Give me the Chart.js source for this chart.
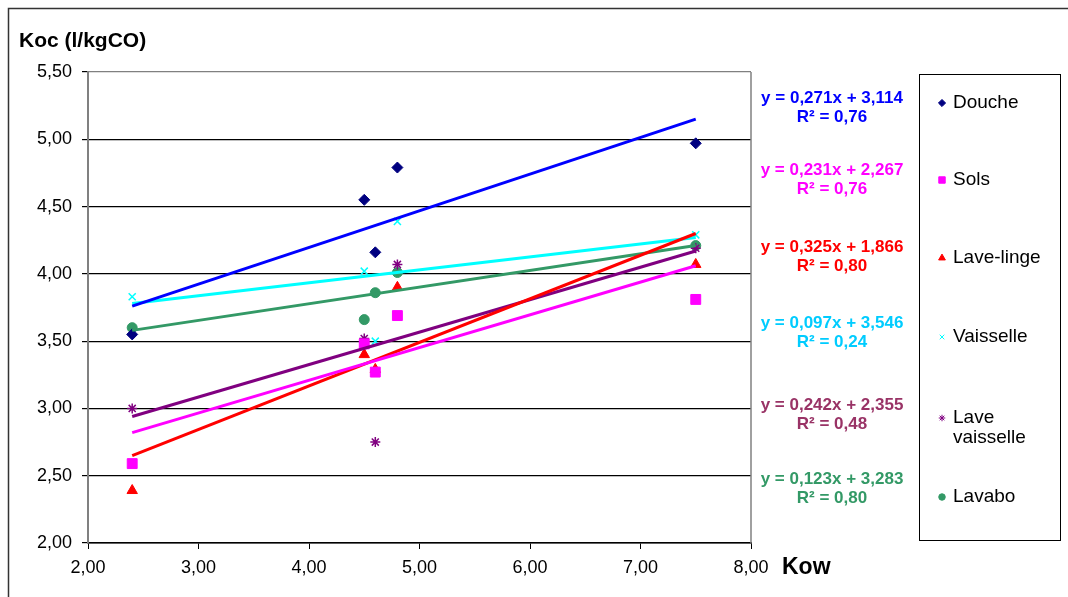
<!DOCTYPE html>
<html lang="fr">
<head>
<meta charset="utf-8">
<title>Koc vs Kow</title>
<script src="https://cdn.jsdelivr.net/npm/chart.js@4.4.0/dist/chart.umd.min.js"></script>
<style>
    html, body { margin: 0; padding: 0; background: #fff; }
    #wrap { position: relative; width: 1068px; height: 597px; }
</style>
</head>
<body>
<div id="wrap"><canvas id="kocChart" width="1068" height="597"></canvas></div>
<script>
// Kow values (x) shared by every product
const kow = [2.4, 4.5, 4.6, 4.8, 7.5];

// Koc per product
const douche        = [3.55, 4.55, 4.16, 4.79, 4.97];
const sols          = [2.59, 3.48, 3.27, 3.69, 3.81];
const laveLinge     = [2.39, 3.40, 3.29, 3.90, 4.07];
const vaisselle     = [3.83, 4.02, 3.50, 4.39, 4.29];
const laveVaisselle = [3.00, 3.52, 2.75, 4.07, 4.19];
const lavabo        = [3.60, 3.66, 3.86, 4.01, 4.21];

const seriesNames = ['Douche', 'Sols', 'Lave-linge', 'Vaisselle', 'Lave vaisselle', 'Lavabo'];

// trend lines: y at first and last Kow
const trendX     = [2.4, 7.5];
const trendStart = [3.76, 2.82, 2.65, 3.78, 2.94, 3.58];
const trendEnd   = [5.15, 4.06, 4.30, 4.27, 4.17, 4.21];

// equation labels as printed
const equations = ['y = 0,271x + 3,114', 'y = 0,231x + 2,267', 'y = 0,325x + 1,866',
                   'y = 0,097x + 3,546', 'y = 0,242x + 2,355', 'y = 0,123x + 3,283'];
const rSquared  = ['R² = 0,76', 'R² = 0,76', 'R² = 0,80', 'R² = 0,24', 'R² = 0,48', 'R² = 0,80'];

// axis ticks
const xTicks = [2, 3, 4, 5, 6, 7, 8];
const yTicks = [2, 2.5, 3, 3.5, 4, 4.5, 5, 5.5];

const FONT = "'Liberation Sans', Arial, sans-serif";

const markerStyles = [
    { pointStyle: 'rectRot', color: '#000080', radius: 5.5, border: 1 },
    { pointStyle: 'rect', color: '#FF00FF', radius: 7, border: 1 },
    { pointStyle: 'triangle', color: '#FF0000', radius: 6, border: 1 },
    { pointStyle: 'crossRot', color: '#00FFFF', radius: 5, border: 1.5 },
    { pointStyle: 'star', color: '#800080', radius: 5, border: 1.5 },
    { pointStyle: 'circle', color: '#339966', radius: 5, border: 1 }
];
const lineColors = ['#0000FF', '#FF00FF', '#FF0000', '#00FFFF', '#800080', '#339966'];
const eqColors   = ['#0000FF', '#FF00FF', '#FF0000', '#00CCFF', '#993366', '#339966'];
const eqY        = [98, 170, 247, 323, 405, 479];
const legendY    = [103, 180, 258, 337, 418, 497];

const fmt = v => Number(v).toFixed(2).replace('.', ',');

function buildDatasets() {
    const values = [douche, sols, laveLinge, vaisselle, laveVaisselle, lavabo];
    const sets = [];
    values.forEach((ys, i) => {
        const m = markerStyles[i];
        sets.push({
            label: seriesNames[i],
            data: ys.map((y, k) => ({ x: kow[k], y: y })),
            showLine: false,
            pointStyle: m.pointStyle,
            pointRadius: m.radius,
            pointBackgroundColor: m.color,
            pointBorderColor: m.color,
            pointBorderWidth: m.border,
            order: 2
        });
    });
    trendStart.forEach((y0, i) => {
        sets.push({
            label: 'trend ' + seriesNames[i],
            data: [{ x: trendX[0], y: y0 }, { x: trendX[1], y: trendEnd[i] }],
            showLine: true,
            borderColor: lineColors[i],
            borderWidth: 3,
            pointRadius: 0,
            order: 1
        });
    });
    return sets;
}

// Title, axis name, equations and the legend box
const decorPlugin = {
    id: 'decor',
    afterDraw(chart) {
        const ctx = chart.ctx;
        const area = chart.chartArea;
        ctx.save();

        // outer frame
        ctx.strokeStyle = '#333';
        ctx.lineWidth = 1.5;
        ctx.beginPath();
        ctx.moveTo(8.5, 600);
        ctx.lineTo(8.5, 8.5);
        ctx.lineTo(1070, 8.5);
        ctx.stroke();

        // right edge of plot area
        ctx.strokeStyle = '#808080';
        ctx.lineWidth = 1.5;
        ctx.beginPath();
        ctx.moveTo(area.right, area.top);
        ctx.lineTo(area.right, area.bottom);
        ctx.stroke();

        ctx.fillStyle = '#000';
        ctx.textBaseline = 'alphabetic';
        ctx.textAlign = 'left';
        ctx.font = 'bold 21px ' + FONT;
        ctx.fillText('Koc (l/kgCO)', 19, 47);
        ctx.font = 'bold 23px ' + FONT;
        ctx.fillText('Kow', 782, 574);

        // regression equations
        ctx.textAlign = 'center';
        ctx.textBaseline = 'middle';
        ctx.font = 'bold 17px ' + FONT;
        equations.forEach((eq, i) => {
            ctx.fillStyle = eqColors[i];
            ctx.fillText(eq, 832, eqY[i]);
            ctx.fillText(rSquared[i], 832, eqY[i] + 19);
        });

        // legend
        ctx.strokeStyle = '#000';
        ctx.lineWidth = 1;
        ctx.strokeRect(919.5, 74.5, 141, 466);
        ctx.textAlign = 'left';
        ctx.font = '19px ' + FONT;
        seriesNames.forEach((name, i) => {
            const m = markerStyles[i];
            const y = legendY[i];
            ctx.fillStyle = m.color;
            ctx.strokeStyle = m.color;
            Chart.helpers.drawPoint(ctx, { pointStyle: m.pointStyle, radius: m.radius * 0.65, borderWidth: 1 }, 942, y);
            ctx.fillStyle = '#000';
            if (name === 'Lave vaisselle') {
                ctx.fillText('Lave', 953, y);
                ctx.fillText('vaisselle', 953, y + 20);
            } else {
                ctx.fillText(name, 953, y);
            }
        });
        ctx.restore();
    }
};

const chart = new Chart(document.getElementById('kocChart'), {
    type: 'scatter',
    data: { datasets: buildDatasets() },
    options: {
        responsive: false,
        animation: false,
        layout: { padding: { left: 0, top: 72, right: 317, bottom: 0 } },
        plugins: { legend: { display: false }, tooltip: { enabled: false } },
        scales: {
            x: {
                type: 'linear',
                min: xTicks[0],
                max: xTicks[xTicks.length - 1],
                afterBuildTicks: s => { s.ticks = xTicks.map(v => ({ value: v })); },
                afterFit: s => { s.height = 54; },
                border: { color: '#000', width: 1.5 },
                grid: { drawOnChartArea: false, drawTicks: true, tickLength: 6, color: '#000' },
                ticks: { callback: fmt, color: '#000', padding: 8, font: { family: FONT, size: 18 }, maxRotation: 0 }
            },
            y: {
                type: 'linear',
                min: yTicks[0],
                max: yTicks[yTicks.length - 1],
                afterBuildTicks: s => { s.ticks = yTicks.map(v => ({ value: v })); },
                afterFit: s => { s.width = 88; },
                border: { color: '#808080', width: 2 },
                grid: {
                    color: c => (c.tick && c.tick.value === 5.5 ? '#808080' : '#000'),
                    tickColor: '#000',
                    tickLength: 6,
                    lineWidth: 1.2
                },
                ticks: { callback: fmt, color: '#000', padding: 10, font: { family: FONT, size: 18 } }
            }
        }
    },
    plugins: [decorPlugin]
});
</script>
</body>
</html>
